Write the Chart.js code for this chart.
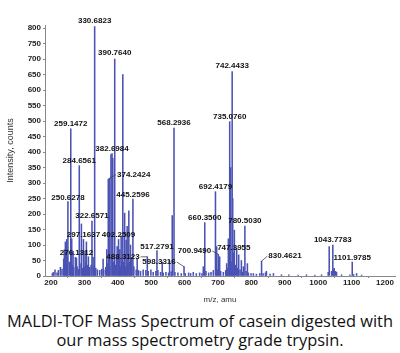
<!DOCTYPE html>
<html>
<head>
<meta charset="utf-8">
<script src="https://cdn.jsdelivr.net/npm/chart.js@4/dist/chart.umd.min.js"></script>
<style>
    html, body { margin: 0; padding: 0; background: #fff; }
    #wrap { position: relative; width: 400px; height: 353px; overflow: hidden; }
    #chartBox { position: absolute; left: 0; top: 0; width: 400px; height: 305px; }
    .caption {
        position: absolute; left: 0; width: 400px; text-align: center;
        font-family: "Open Sans", sans-serif; font-size: 16.4px; line-height: 18px;
        color: #111; white-space: nowrap;
    }
</style>
</head>
<body>
<div id="wrap">
    <div id="chartBox"><canvas id="spectrum"></canvas></div>
    <div class="caption" style="top:312px">MALDI-TOF Mass Spectrum of casein digested with</div>
    <div class="caption" style="top:331px">our mass spectrometry grade trypsin.</div>
</div>
<script>
// Peak list: m/z and intensity (counts)
const peakMz = [
    250.6278, 259.1472, 276.1312, 284.6561, 297.1637, 322.6571, 330.6823, 374.2424,
    382.6984, 390.7640, 402.2509, 445.2596, 488.3123, 517.2791, 568.2936, 598.3316,
    660.3500, 692.4179, 700.9490, 735.0760, 742.4433, 747.3955, 780.5030, 830.4621,
    1043.7783, 1101.9785,
    // unlabelled larger peaks
    415, 420.5, 433, 379.5, 385, 371.5, 563, 291, 243, 247, 240, 262, 266, 273,
    306, 302, 312, 326, 356, 367, 398, 406, 410, 425, 428, 438, 441, 458,
    533, 555, 731, 738, 744, 749, 756, 762, 770, 776, 788, 696, 705, 656, 726,
    1033, 1048, 1052, 845,
    // low-level grass
    204, 207, 212, 218, 222, 228, 233, 238, 245, 249, 255, 264, 268, 278, 282, 290,
    295, 300, 304, 309, 314, 316, 320, 328, 334, 339, 346, 352, 358, 364, 369, 376,
    388, 394, 397, 404, 408, 412, 418, 423, 430, 436, 448, 455, 462, 468, 476, 484,
    491, 499, 506, 514, 520, 528, 536, 544, 552, 560, 571, 580, 590, 602, 612, 618,
    626, 635, 645, 652, 664, 672, 679, 686, 698, 708, 716, 723, 728, 733, 740, 752,
    759, 766, 773, 784, 791, 799, 806, 815, 825, 835, 842, 856, 866, 890, 912, 940,
    965, 990, 1010, 1030, 1040, 1046, 1055, 1070, 1095, 1106, 1115, 1130
];
const peakIntensity = [
    240, 475, 58, 356, 118, 177, 805, 315,
    395, 700, 118, 248, 62, 82, 477, 30,
    172, 272, 70, 498, 660, 75, 161, 48,
    100, 45,
    650, 203, 210, 392, 380, 312, 195, 168, 110, 118, 85, 120, 80, 60,
    110, 80, 62, 60, 55, 85, 95, 85, 130, 115, 160, 100, 60, 55,
    45, 50, 120, 350, 250, 148, 90, 68, 50, 30, 40, 95, 62, 30, 40,
    95, 25, 15, 15,
    8, 12, 20, 10, 18, 28, 22, 55, 70, 60, 45, 35, 28, 30, 22, 40,
    25, 30, 45, 35, 20, 28, 35, 30, 25, 20, 18, 22, 20, 28, 40, 30,
    45, 35, 60, 40, 30, 50, 45, 30, 40, 45, 30, 20, 18, 15, 20, 18,
    15, 20, 12, 15, 18, 12, 10, 12, 10, 14, 12, 10, 8, 8, 10, 8,
    12, 8, 10, 8, 15, 10, 12, 18, 20, 15, 12, 18, 25, 40, 45, 35,
    25, 20, 12, 15, 10, 8, 8, 6, 8, 8, 10, 6, 8, 4, 4, 3,
    4, 3, 4, 12, 15, 20, 12, 4, 4, 5, 8, 3
];

// Axis tick values
const xTicks = [200, 300, 400, 500, 600, 700, 800, 900, 1000, 1100, 1200];
const yTicks = [0, 50, 100, 150, 200, 250, 300, 350, 400, 450, 500, 550, 600, 650, 700, 750, 800];

// Peaks that carry an m/z label
const labelMz = [
    250.6278, 259.1472, 276.1312, 284.6561, 297.1637, 322.6571, 330.6823, 374.2424,
    382.6984, 390.7640, 402.2509, 445.2596, 488.3123, 517.2791, 568.2936, 598.3316,
    660.3500, 692.4179, 700.9490, 735.0760, 742.4433, 747.3955, 780.5030, 830.4621,
    1043.7783, 1101.9785
];
// label text centre relative to peak top [dx, dy, leader line]
const labelOffsets = [
    [0, -4, 0], [0, -5, 0], [0, -5, 0], [0, -5, 0], [0, -5, 0], [0, -5, 0], [0, -5.5, 0], [24.5, -3.7, 1],
    [0, -5, 0], [0, -6, 0], [0, -4.5, 0], [0, -4, 0], [-24.3, 0, 1], [0, -4, 0], [0, -5, 0], [-25, -4.7, 1],
    [0, -5, 0], [0, -4.5, 0], [-23.8, -3.3, 1], [0, -5, 0], [0, -5.5, 0], [0, -4.5, 0], [0, -5, 0], [23.4, -5, 1],
    [0, -5.5, 0], [0, -4.7, 0]
];

const FONT_FAMILY = '"Liberation Sans", Arial, sans-serif';

const peakLabels = {
    id: 'peakLabels',
    afterDatasetsDraw(chart) {
        const { ctx, scales: { x, y } } = chart;
        ctx.save();
        ctx.font = 'bold 8px ' + FONT_FAMILY;
        ctx.textAlign = 'center';
        ctx.textBaseline = 'middle';
        labelMz.forEach((mz, i) => {
            const idx = peakMz.indexOf(mz);
            const px = x.getPixelForValue(mz);
            const py = y.getPixelForValue(peakIntensity[idx]);
            const [dx, dy, leader] = labelOffsets[i];
            const tx = px + dx;
            const ty = py + dy;
            const text = mz.toFixed(4);
            const w = ctx.measureText(text).width;
            if (leader) {
                ctx.strokeStyle = '#444';
                ctx.lineWidth = 0.8;
                ctx.beginPath();
                const ex = dx > 0 ? tx - w / 2 - 1 : tx + w / 2 + 1;
                ctx.moveTo(ex, ty);
                ctx.lineTo(px, py);
                ctx.stroke();
            }
            ctx.fillStyle = '#111';
            ctx.fillText(text, tx, ty);
        });
        ctx.restore();
    }
};

const ctx = document.getElementById('spectrum').getContext('2d');
new Chart(ctx, {
    type: 'bar',
    data: {
        datasets: [{
            data: peakMz.map((mz, i) => ({ x: mz, y: peakIntensity[i] })),
            backgroundColor: '#4a52b4',
            borderWidth: 0,
            barThickness: 0.9,
        }],
    },
    options: {
        responsive: true,
        maintainAspectRatio: false,
        animation: false,
        layout: { padding: { top: 25, right: 5, left: 0, bottom: 0 } },
        plugins: { legend: { display: false }, tooltip: { enabled: false } },
        scales: {
            x: {
                type: 'linear',
                min: 182,
                max: 1230,
                offset: false,
                afterFit: (scale) => { scale.height = 29; },
                afterBuildTicks: (scale) => { scale.ticks = xTicks.map(v => ({ value: v })); },
                border: { color: '#888' },
                grid: { display: true, drawOnChartArea: false, drawTicks: true, tickLength: 2, color: '#888' },
                ticks: {
                    padding: 0,
                    maxRotation: 0,
                    autoSkip: false,
                    color: '#222',
                    font: { family: FONT_FAMILY, size: 8, weight: 'bold' },
                    callback: (value) => String(value),
                },
                title: {
                    display: true,
                    text: 'm/z, amu',
                    color: '#333',
                    padding: { top: 7, bottom: 0 },
                    font: { family: FONT_FAMILY, size: 8 },
                },
            },
            y: {
                min: 0,
                max: 810,
                afterFit: (scale) => { scale.width = 45; },
                afterBuildTicks: (scale) => { scale.ticks = yTicks.map(v => ({ value: v })); },
                border: { color: '#888' },
                grid: { display: true, drawOnChartArea: false, drawTicks: true, tickLength: 2, color: '#888' },
                ticks: {
                    padding: 2,
                    autoSkip: false,
                    color: '#222',
                    font: { family: FONT_FAMILY, size: 8, weight: 'bold' },
                    callback: (value) => String(value),
                },
                title: {
                    display: true,
                    text: 'Intensity, counts',
                    color: '#333',
                    padding: { top: 5, bottom: 0 },
                    font: { family: FONT_FAMILY, size: 9 },
                },
            },
        },
    },
    plugins: [peakLabels],
});
</script>
</body>
</html>
